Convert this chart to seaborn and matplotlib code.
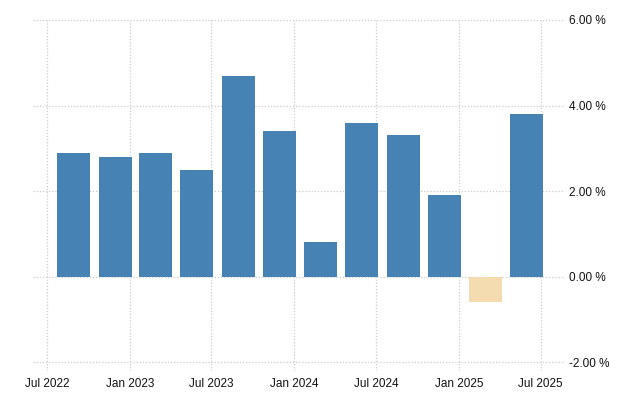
import numpy as np
import pandas as pd
import matplotlib
matplotlib.use("Agg")
import matplotlib.pyplot as plt
import matplotlib.dates as mdates
import matplotlib.ticker as mticker
import seaborn as sns

####
#data
####

quarters = ["2022Q3", "2022Q4", "2023Q1", "2023Q2", "2023Q3", "2023Q4",
            "2024Q1", "2024Q2", "2024Q3", "2024Q4", "2025Q1", "2025Q2"]
growth = [2.9, 2.8, 2.9, 2.5, 4.7, 3.4, 0.8, 3.6, 3.3, 1.9, -0.6, 3.8]
tick_dates = ["2022-07-01", "2023-01-01", "2023-07-01", "2024-01-01",
              "2024-07-01", "2025-01-01", "2025-07-01"]
y_ticks = [-2, 0, 2, 4, 6]

####
#plot
####

# bars sit about a month before the quarter end
ends = pd.PeriodIndex(quarters, freq="Q").end_time.normalize()
centers = mdates.date2num((ends - pd.Timedelta(days=31)).to_pydatetime())

df = pd.DataFrame({"x": centers, "y": growth})
df["sign"] = np.where(df["y"] < 0, "neg", "pos")

sns.set_style("white")
plt.rcParams["font.family"] = ["Liberation Sans", "DejaVu Sans"]

fig = plt.figure(figsize=(6.4, 4.0), dpi=100)
ax = fig.add_axes([0.052, 0.0725, 0.831, 0.8775])

sns.barplot(data=df, x="x", y="y", hue="sign", native_scale=True,
            palette={"pos": "#4682b4", "neg": "#f5dcb0"}, width=0.81,
            legend=False, saturation=1, linewidth=0, ax=ax)

ax.set_xlim(mdates.date2num(pd.Timestamp("2022-06-01")),
            mdates.date2num(pd.Timestamp("2025-08-24")))
ax.set_ylim(-2.21, 6)

ax.set_xticks(mdates.date2num(pd.to_datetime(tick_dates).to_pydatetime()))
ax.xaxis.set_major_formatter(mdates.DateFormatter("%b %Y"))
ax.set_yticks(y_ticks)
ax.yaxis.set_major_formatter(mticker.FuncFormatter(lambda v, p: f"{v:.2f} %"))

ax.yaxis.tick_right()
ax.tick_params(axis="both", length=0, labelsize=8.5, colors="#111111")
ax.tick_params(axis="x", pad=5)
ax.tick_params(axis="y", pad=3)
ax.grid(True, color="#cccccc", linestyle=(0, (1, 1.5)), linewidth=0.9)
ax.set_axisbelow(True)
for s in ax.spines.values():
    s.set_visible(False)
ax.set_xlabel("")
ax.set_ylabel("")

fig.savefig("out.png", dpi=100)
